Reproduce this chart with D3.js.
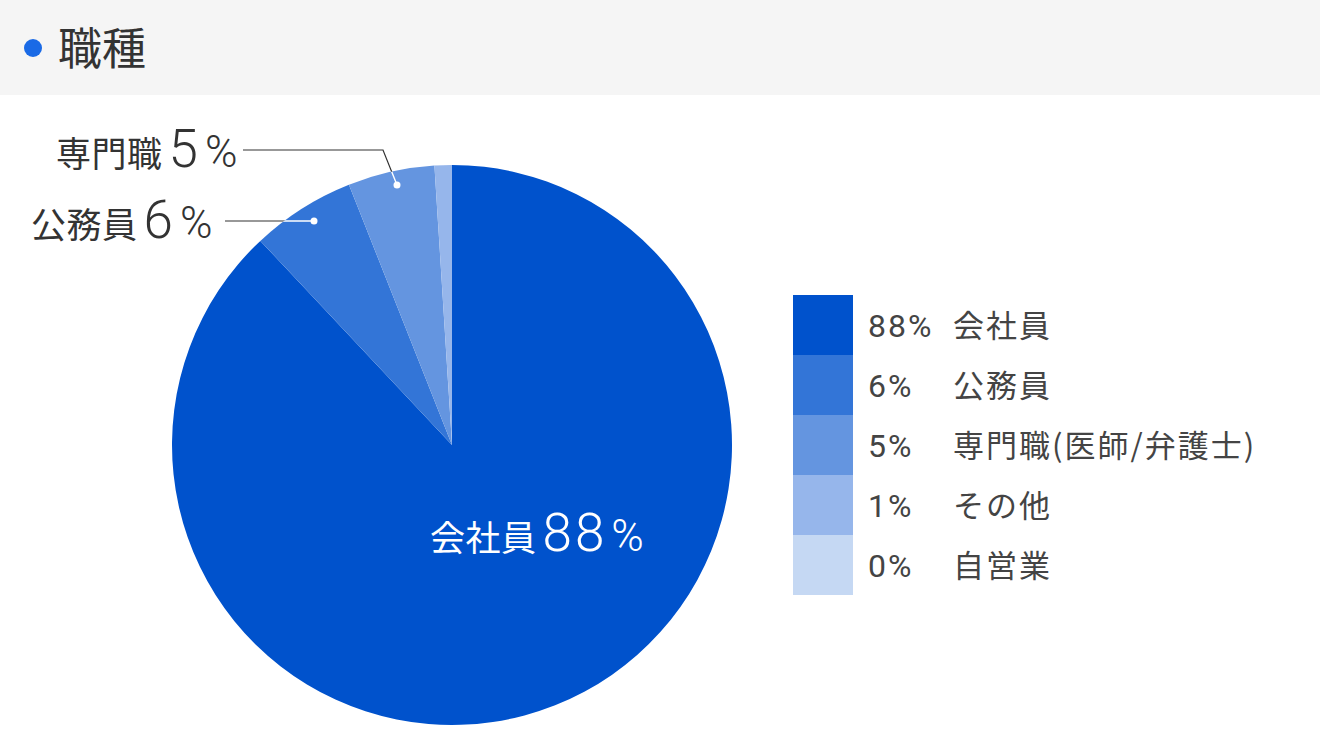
<!DOCTYPE html>
<html>
<head>
<meta charset="utf-8">
<script src="https://cdn.jsdelivr.net/npm/d3@7"></script>
<style>
  body { margin: 0; background: #fff; font-family: Roboto, "Noto Sans CJK JP", sans-serif; }
  svg { display: block; }
</style>
</head>
<body>
<svg id="chart" width="1320" height="752"></svg>
<script>
// データ
const title = "職種";
const categories = ["会社員", "公務員", "専門職(医師/弁護士)", "その他", "自営業"];
const shortNames = ["会社員", "公務員", "専門職", "その他", "自営業"];
const values = [88, 6, 5, 1, 0];
const colors = ["#0052cc", "#3375d7", "#6495e0", "#96b6eb", "#c5d8f3"];

const cjk = "'Noto Sans CJK JP', sans-serif";
const num = "Roboto, 'Noto Sans CJK JP', sans-serif";

const svg = d3.select("#chart");

// ヘッダー
svg.append("rect").attr("x", 0).attr("y", 0).attr("width", 1320).attr("height", 95).attr("fill", "#f5f5f5");
svg.append("circle").attr("cx", 33).attr("cy", 48).attr("r", 9).attr("fill", "#1a6ae6");
svg.append("text").attr("x", 58).attr("y", 65).attr("font-size", 44).attr("font-family", cjk).attr("fill", "#333")
  .text(title);

// 円グラフ
const cx = 452, cy = 445, r = 280;
const pie = d3.pie().sort(null).value(d => d)(values);
const arc = d3.arc().innerRadius(0).outerRadius(r);
const g = svg.append("g").attr("transform", `translate(${cx},${cy})`);
g.selectAll("path").data(pie).enter().append("path")
  .attr("d", arc)
  .attr("fill", (d, i) => colors[i]);

// ラベル作成
function bigLabel(sel, name, value) {
  sel.append("tspan").attr("font-family", cjk).attr("font-size", 35).attr("letter-spacing", 0.5).text(name);
  sel.append("tspan").attr("dx", 6).attr("font-family", num).attr("font-size", 53).attr("font-weight", 300)
    .attr("letter-spacing", 3).text(value);
  sel.append("tspan").attr("dx", 4).attr("font-family", num).attr("font-size", 44).attr("font-weight", 300).text("%");
}

// 中央
const big = svg.append("text").attr("x", 430).attr("y", 551).attr("fill", "#fff");
bigLabel(big, shortNames[0], values[0]);

// 吹き出し
const callouts = [
  { i: 1, tx: 31, ty: 238, line: [[225, 221], [314, 221]] },
  { i: 2, tx: 56, ty: 167, line: [[243, 150], [383, 150], [397, 185]] }
];
callouts.forEach(c => {
  const t = svg.append("text").attr("x", c.tx).attr("y", c.ty).attr("fill", "#333");
  bigLabel(t, shortNames[c.i], values[c.i]);
});
// 円の外側は黒、内側は白
const clipOut = svg.append("clipPath").attr("id", "outclip");
clipOut.append("path").attr("clip-rule", "evenodd")
  .attr("d", `M0,0H1320V752H0Z M${cx - r},${cy}a${r},${r} 0 1,0 ${2 * r},0a${r},${r} 0 1,0 ${-2 * r},0Z`);
const clipIn = svg.append("clipPath").attr("id", "inclip");
clipIn.append("circle").attr("cx", cx).attr("cy", cy).attr("r", r);
const outer = svg.append("g").attr("clip-path", "url(#outclip)");
const inner = svg.append("g").attr("clip-path", "url(#inclip)");
callouts.forEach(c => {
  outer.append("path").attr("d", d3.line()(c.line)).attr("fill", "none").attr("stroke", "#333").attr("stroke-width", 1.2);
  inner.append("path").attr("d", d3.line()(c.line)).attr("fill", "none").attr("stroke", "#fff").attr("stroke-width", 1.4);
  const last = c.line[c.line.length - 1];
  svg.append("circle").attr("cx", last[0]).attr("cy", last[1]).attr("r", 3.5).attr("fill", "#fff");
});

// 凡例
const y = d3.scaleBand().domain(categories).range([295, 595]).padding(0);
const legend = svg.append("g");
categories.forEach((c, i) => {
  legend.append("rect").attr("x", 793).attr("y", y(c)).attr("width", 60).attr("height", y.bandwidth()).attr("fill", colors[i]);
  legend.append("text").attr("x", 868).attr("y", y(c) + 42).attr("font-family", num).attr("font-size", 32)
    .attr("fill", "#444").attr("letter-spacing", 2).text(values[i] + "%");
  legend.append("text").attr("x", 953).attr("y", y(c) + 42).attr("font-family", cjk).attr("font-size", 31)
    .attr("fill", "#444").attr("letter-spacing", 2).text(c);
});
</script>
</body>
</html>
